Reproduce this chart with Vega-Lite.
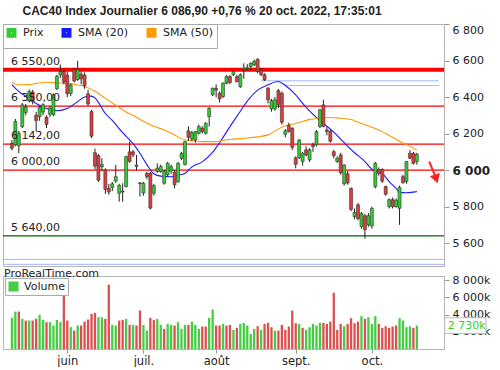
{
  "$schema": "https://vega.github.io/schema/vega-lite/v6.json",
  "background": "white",
  "padding": {"top": 5, "left": 0, "right": 0, "bottom": 0},
  "autosize": {"type": "pad"},
  "spacing": 0,
  "title": {"text": "CAC40 Index Journalier 6 086,90 +0,76 % 20 oct. 2022, 17:35:01", "anchor": "start", "dx": 22, "font": "Liberation Sans", "fontSize": 12, "fontWeight": "bold", "color": "#222222", "offset": 5},
  "config": {
    "font": "DejaVu Sans",
    "view": {"stroke": "#b4b4b4"},
    "axis": {"labelFont": "DejaVu Sans", "labelFontSize": 11, "labelColor": "#222222", "grid": false, "title": null, "labelOverlap": false},
    "axisY": {"labelOverlap": false},
    "legend": {"labelFont": "DejaVu Sans", "labelFontSize": 11, "labelColor": "#222222"}
  },
  "resolve": {"scale": {"color": "independent", "x": "independent", "y": "independent"}, "legend": {"color": "independent"}},
  "datasets": {
    "prix": [
      {"d":"2022-05-10","i":0,"o":6147,"h":6165,"l":6108,"c":6120,"v":3630,"vd":"hausse"},
      {"d":"2022-05-11","i":1,"o":6138,"h":6280,"l":6130,"c":6266,"v":4360,"vd":"hausse"},
      {"d":"2022-05-12","i":2,"o":6133,"h":6215,"l":6092,"c":6202,"v":4360,"vd":"baisse"},
      {"d":"2022-05-13","i":3,"o":6238,"h":6368,"l":6230,"c":6357,"v":3510,"vd":"hausse"},
      {"d":"2022-05-16","i":4,"o":6315,"h":6362,"l":6300,"c":6345,"v":3310,"vd":"baisse"},
      {"d":"2022-05-17","i":5,"o":6378,"h":6442,"l":6370,"c":6430,"v":3310,"vd":"hausse"},
      {"d":"2022-05-18","i":6,"o":6428,"h":6440,"l":6360,"c":6375,"v":3310,"vd":"baisse"},
      {"d":"2022-05-19","i":7,"o":6300,"h":6318,"l":6212,"c":6272,"v":3510,"vd":"baisse"},
      {"d":"2022-05-20","i":8,"o":6293,"h":6355,"l":6270,"c":6345,"v":3980,"vd":"hausse"},
      {"d":"2022-05-23","i":9,"o":6318,"h":6366,"l":6300,"c":6358,"v":3390,"vd":"hausse"},
      {"d":"2022-05-24","i":10,"o":6290,"h":6300,"l":6230,"c":6250,"v":3120,"vd":"baisse"},
      {"d":"2022-05-25","i":11,"o":6306,"h":6352,"l":6290,"c":6340,"v":3120,"vd":"hausse"},
      {"d":"2022-05-26","i":12,"o":6304,"h":6420,"l":6295,"c":6412,"v":2730,"vd":"hausse"},
      {"d":"2022-05-27","i":13,"o":6445,"h":6522,"l":6438,"c":6514,"v":3390,"vd":"hausse"},
      {"d":"2022-05-30","i":14,"o":6522,"h":6578,"l":6505,"c":6540,"v":3120,"vd":"hausse"},
      {"d":"2022-05-31","i":15,"o":6540,"h":6552,"l":6470,"c":6482,"v":6430,"vd":"baisse"},
      {"d":"2022-06-01","i":16,"o":6520,"h":6540,"l":6400,"c":6418,"v":3310,"vd":"baisse"},
      {"d":"2022-06-02","i":17,"o":6420,"h":6475,"l":6405,"c":6465,"v":2540,"vd":"hausse"},
      {"d":"2022-06-03","i":18,"o":6550,"h":6560,"l":6480,"c":6488,"v":2140,"vd":"baisse"},
      {"d":"2022-06-06","i":19,"o":6495,"h":6598,"l":6490,"c":6550,"v":2730,"vd":"hausse"},
      {"d":"2022-06-07","i":20,"o":6525,"h":6540,"l":6470,"c":6500,"v":2730,"vd":"baisse"},
      {"d":"2022-06-08","i":21,"o":6520,"h":6535,"l":6445,"c":6462,"v":3190,"vd":"baisse"},
      {"d":"2022-06-09","i":22,"o":6418,"h":6440,"l":6352,"c":6362,"v":3430,"vd":"baisse"},
      {"d":"2022-06-10","i":23,"o":6320,"h":6330,"l":6175,"c":6186,"v":4090,"vd":"baisse"},
      {"d":"2022-06-13","i":24,"o":6095,"h":6118,"l":6005,"c":6022,"v":4210,"vd":"baisse"},
      {"d":"2022-06-14","i":25,"o":6080,"h":6088,"l":5935,"c":5945,"v":3700,"vd":"hausse"},
      {"d":"2022-06-15","i":26,"o":6018,"h":6065,"l":5995,"c":6030,"v":3700,"vd":"hausse"},
      {"d":"2022-06-16","i":27,"o":6001,"h":6010,"l":5870,"c":5895,"v":3510,"vd":"baisse"},
      {"d":"2022-06-17","i":28,"o":5900,"h":5925,"l":5865,"c":5880,"v":7490,"vd":"baisse"},
      {"d":"2022-06-20","i":29,"o":5905,"h":5935,"l":5885,"c":5925,"v":2810,"vd":"hausse"},
      {"d":"2022-06-21","i":30,"o":5940,"h":6028,"l":5930,"c":5964,"v":2730,"vd":"hausse"},
      {"d":"2022-06-22","i":31,"o":5873,"h":5925,"l":5827,"c":5917,"v":3310,"vd":"baisse"},
      {"d":"2022-06-23","i":32,"o":5885,"h":5928,"l":5827,"c":5880,"v":3390,"vd":"baisse"},
      {"d":"2022-06-24","i":33,"o":5910,"h":6078,"l":5905,"c":6074,"v":3510,"vd":"hausse"},
      {"d":"2022-06-27","i":34,"o":6100,"h":6156,"l":6040,"c":6048,"v":2810,"vd":"baisse"},
      {"d":"2022-06-28","i":35,"o":6100,"h":6110,"l":6070,"c":6084,"v":2810,"vd":"hausse"},
      {"d":"2022-06-29","i":36,"o":6020,"h":6083,"l":6000,"c":6028,"v":2730,"vd":"baisse"},
      {"d":"2022-06-30","i":37,"o":5930,"h":5935,"l":5855,"c":5926,"v":4480,"vd":"baisse"},
      {"d":"2022-07-01","i":38,"o":5875,"h":5935,"l":5860,"c":5928,"v":2810,"vd":"hausse"},
      {"d":"2022-07-04","i":39,"o":5982,"h":5990,"l":5950,"c":5964,"v":2140,"vd":"hausse"},
      {"d":"2022-07-05","i":40,"o":5982,"h":5990,"l":5785,"c":5792,"v":3630,"vd":"baisse"},
      {"d":"2022-07-06","i":41,"o":5873,"h":5925,"l":5860,"c":5915,"v":3390,"vd":"baisse"},
      {"d":"2022-07-07","i":42,"o":5992,"h":6037,"l":5985,"c":6010,"v":3510,"vd":"hausse"},
      {"d":"2022-07-08","i":43,"o":5992,"h":6030,"l":5985,"c":6020,"v":2810,"vd":"hausse"},
      {"d":"2022-07-11","i":44,"o":5928,"h":6000,"l":5920,"c":5992,"v":2340,"vd":"baisse"},
      {"d":"2022-07-12","i":45,"o":5975,"h":6045,"l":5965,"c":6037,"v":2920,"vd":"hausse"},
      {"d":"2022-07-13","i":46,"o":5995,"h":6030,"l":5980,"c":6019,"v":2810,"vd":"hausse"},
      {"d":"2022-07-14","i":47,"o":5990,"h":6000,"l":5900,"c":5920,"v":2730,"vd":"baisse"},
      {"d":"2022-07-15","i":48,"o":5937,"h":6045,"l":5930,"c":6037,"v":3120,"vd":"hausse"},
      {"d":"2022-07-18","i":49,"o":6065,"h":6100,"l":6055,"c":6092,"v":2340,"vd":"hausse"},
      {"d":"2022-07-19","i":50,"o":6030,"h":6160,"l":6025,"c":6156,"v":2810,"vd":"hausse"},
      {"d":"2022-07-20","i":51,"o":6215,"h":6240,"l":6160,"c":6180,"v":2810,"vd":"baisse"},
      {"d":"2022-07-21","i":52,"o":6170,"h":6215,"l":6160,"c":6205,"v":3190,"vd":"hausse"},
      {"d":"2022-07-22","i":53,"o":6165,"h":6215,"l":6150,"c":6210,"v":2810,"vd":"hausse"},
      {"d":"2022-07-25","i":54,"o":6202,"h":6250,"l":6195,"c":6238,"v":2340,"vd":"hausse"},
      {"d":"2022-07-26","i":55,"o":6229,"h":6240,"l":6200,"c":6211,"v":2610,"vd":"baisse"},
      {"d":"2022-07-27","i":56,"o":6202,"h":6262,"l":6195,"c":6256,"v":2610,"vd":"baisse"},
      {"d":"2022-07-28","i":57,"o":6293,"h":6345,"l":6238,"c":6339,"v":3630,"vd":"hausse"},
      {"d":"2022-07-29","i":58,"o":6412,"h":6452,"l":6405,"c":6448,"v":4600,"vd":"hausse"},
      {"d":"2022-08-01","i":59,"o":6448,"h":6470,"l":6400,"c":6438,"v":2730,"vd":"baisse"},
      {"d":"2022-08-02","i":60,"o":6421,"h":6430,"l":6370,"c":6390,"v":2730,"vd":"baisse"},
      {"d":"2022-08-03","i":61,"o":6403,"h":6480,"l":6395,"c":6476,"v":2920,"vd":"hausse"},
      {"d":"2022-08-04","i":62,"o":6476,"h":6520,"l":6470,"c":6512,"v":2730,"vd":"baisse"},
      {"d":"2022-08-05","i":63,"o":6512,"h":6520,"l":6470,"c":6480,"v":2810,"vd":"baisse"},
      {"d":"2022-08-08","i":64,"o":6522,"h":6548,"l":6515,"c":6540,"v":2220,"vd":"hausse"},
      {"d":"2022-08-09","i":65,"o":6512,"h":6520,"l":6480,"c":6485,"v":2460,"vd":"baisse"},
      {"d":"2022-08-10","i":66,"o":6457,"h":6530,"l":6450,"c":6522,"v":2920,"vd":"hausse"},
      {"d":"2022-08-11","i":67,"o":6550,"h":6585,"l":6500,"c":6558,"v":3040,"vd":"hausse"},
      {"d":"2022-08-12","i":68,"o":6555,"h":6580,"l":6545,"c":6560,"v":2730,"vd":"hausse"},
      {"d":"2022-08-15","i":69,"o":6567,"h":6590,"l":6550,"c":6585,"v":1750,"vd":"hausse"},
      {"d":"2022-08-16","i":70,"o":6576,"h":6605,"l":6570,"c":6595,"v":2340,"vd":"hausse"},
      {"d":"2022-08-17","i":71,"o":6607,"h":6612,"l":6530,"c":6540,"v":2650,"vd":"baisse"},
      {"d":"2022-08-18","i":72,"o":6549,"h":6560,"l":6515,"c":6522,"v":2220,"vd":"hausse"},
      {"d":"2022-08-19","i":73,"o":6522,"h":6530,"l":6488,"c":6494,"v":2920,"vd":"baisse"},
      {"d":"2022-08-22","i":74,"o":6448,"h":6455,"l":6365,"c":6385,"v":3040,"vd":"baisse"},
      {"d":"2022-08-23","i":75,"o":6335,"h":6390,"l":6320,"c":6380,"v":2540,"vd":"baisse"},
      {"d":"2022-08-24","i":76,"o":6335,"h":6400,"l":6325,"c":6385,"v":2140,"vd":"hausse"},
      {"d":"2022-08-25","i":77,"o":6435,"h":6445,"l":6340,"c":6360,"v":2140,"vd":"baisse"},
      {"d":"2022-08-26","i":78,"o":6421,"h":6430,"l":6250,"c":6262,"v":2810,"vd":"baisse"},
      {"d":"2022-08-29","i":79,"o":6196,"h":6225,"l":6180,"c":6215,"v":2220,"vd":"baisse"},
      {"d":"2022-08-30","i":80,"o":6245,"h":6260,"l":6205,"c":6212,"v":2610,"vd":"baisse"},
      {"d":"2022-08-31","i":81,"o":6229,"h":6235,"l":6110,"c":6125,"v":4480,"vd":"baisse"},
      {"d":"2022-09-01","i":82,"o":6068,"h":6075,"l":6010,"c":6032,"v":3000,"vd":"baisse"},
      {"d":"2022-09-02","i":83,"o":6068,"h":6170,"l":6060,"c":6165,"v":2920,"vd":"hausse"},
      {"d":"2022-09-05","i":84,"o":6047,"h":6100,"l":6025,"c":6092,"v":2460,"vd":"baisse"},
      {"d":"2022-09-06","i":85,"o":6111,"h":6130,"l":6075,"c":6083,"v":2220,"vd":"hausse"},
      {"d":"2022-09-07","i":86,"o":6056,"h":6120,"l":6045,"c":6111,"v":2540,"vd":"hausse"},
      {"d":"2022-09-08","i":87,"o":6138,"h":6150,"l":6100,"c":6129,"v":2920,"vd":"hausse"},
      {"d":"2022-09-09","i":88,"o":6138,"h":6220,"l":6130,"c":6211,"v":2730,"vd":"hausse"},
      {"d":"2022-09-12","i":89,"o":6238,"h":6335,"l":6230,"c":6330,"v":3040,"vd":"hausse"},
      {"d":"2022-09-13","i":90,"o":6357,"h":6385,"l":6235,"c":6240,"v":3040,"vd":"baisse"},
      {"d":"2022-09-14","i":91,"o":6220,"h":6235,"l":6190,"c":6211,"v":2920,"vd":"baisse"},
      {"d":"2022-09-15","i":92,"o":6211,"h":6222,"l":6150,"c":6158,"v":3190,"vd":"baisse"},
      {"d":"2022-09-16","i":93,"o":6101,"h":6110,"l":6065,"c":6079,"v":6550,"vd":"baisse"},
      {"d":"2022-09-19","i":94,"o":6047,"h":6075,"l":6040,"c":6065,"v":2220,"vd":"baisse"},
      {"d":"2022-09-20","i":95,"o":6083,"h":6095,"l":5975,"c":5985,"v":2920,"vd":"baisse"},
      {"d":"2022-09-21","i":96,"o":5925,"h":6032,"l":5915,"c":6028,"v":2650,"vd":"hausse"},
      {"d":"2022-09-22","i":97,"o":5980,"h":5995,"l":5920,"c":5930,"v":2920,"vd":"baisse"},
      {"d":"2022-09-23","i":98,"o":5900,"h":5905,"l":5775,"c":5785,"v":3590,"vd":"baisse"},
      {"d":"2022-09-26","i":99,"o":5745,"h":5790,"l":5730,"c":5768,"v":3000,"vd":"baisse"},
      {"d":"2022-09-27","i":100,"o":5810,"h":5820,"l":5725,"c":5735,"v":3190,"vd":"baisse"},
      {"d":"2022-09-28","i":101,"o":5690,"h":5770,"l":5680,"c":5763,"v":3820,"vd":"hausse"},
      {"d":"2022-09-29","i":102,"o":5750,"h":5760,"l":5625,"c":5674,"v":3510,"vd":"baisse"},
      {"d":"2022-09-30","i":103,"o":5700,"h":5765,"l":5690,"c":5750,"v":3700,"vd":"hausse"},
      {"d":"2022-10-03","i":104,"o":5695,"h":5800,"l":5680,"c":5790,"v":2920,"vd":"hausse"},
      {"d":"2022-10-04","i":105,"o":5910,"h":6045,"l":5900,"c":6037,"v":3820,"vd":"hausse"},
      {"d":"2022-10-05","i":106,"o":6003,"h":6015,"l":5970,"c":5982,"v":2920,"vd":"baisse"},
      {"d":"2022-10-06","i":107,"o":6003,"h":6010,"l":5930,"c":5940,"v":2460,"vd":"baisse"},
      {"d":"2022-10-07","i":108,"o":5910,"h":5915,"l":5860,"c":5868,"v":2650,"vd":"baisse"},
      {"d":"2022-10-10","i":109,"o":5800,"h":5845,"l":5790,"c":5838,"v":2460,"vd":"baisse"},
      {"d":"2022-10-11","i":110,"o":5838,"h":5850,"l":5790,"c":5800,"v":2610,"vd":"baisse"},
      {"d":"2022-10-12","i":111,"o":5800,"h":5845,"l":5795,"c":5835,"v":2730,"vd":"baisse"},
      {"d":"2022-10-13","i":112,"o":5791,"h":5915,"l":5700,"c":5905,"v":3590,"vd":"hausse"},
      {"d":"2022-10-14","i":113,"o":5964,"h":5975,"l":5925,"c":5932,"v":3310,"vd":"hausse"},
      {"d":"2022-10-17","i":114,"o":5937,"h":6050,"l":5925,"c":6047,"v":2540,"vd":"hausse"},
      {"d":"2022-10-18","i":115,"o":6092,"h":6110,"l":6060,"c":6065,"v":2650,"vd":"hausse"},
      {"d":"2022-10-19","i":116,"o":6092,"h":6100,"l":6030,"c":6037,"v":2460,"vd":"baisse"},
      {"d":"2022-10-20","i":117,"o":6047,"h":6095,"l":6030,"c":6087,"v":2730,"vd":"hausse"}
    ],
    "sma": [
      {"i":0,"serie":"SMA (20)","val":6468},{"i":2,"serie":"SMA (20)","val":6430},{"i":4,"serie":"SMA (20)","val":6405},{"i":7,"serie":"SMA (20)","val":6365},{"i":10,"serie":"SMA (20)","val":6337},{"i":13,"serie":"SMA (20)","val":6325},{"i":16,"serie":"SMA (20)","val":6337},{"i":19,"serie":"SMA (20)","val":6375},{"i":21,"serie":"SMA (20)","val":6400},{"i":23,"serie":"SMA (20)","val":6405},{"i":24,"serie":"SMA (20)","val":6395},{"i":27,"serie":"SMA (20)","val":6310},{"i":29,"serie":"SMA (20)","val":6272},{"i":32,"serie":"SMA (20)","val":6205},{"i":35,"serie":"SMA (20)","val":6145},{"i":37,"serie":"SMA (20)","val":6092},{"i":39,"serie":"SMA (20)","val":6030},{"i":41,"serie":"SMA (20)","val":5980},{"i":43,"serie":"SMA (20)","val":5967},{"i":46,"serie":"SMA (20)","val":5964},{"i":48,"serie":"SMA (20)","val":5972},{"i":50,"serie":"SMA (20)","val":5982},{"i":52,"serie":"SMA (20)","val":6018},{"i":55,"serie":"SMA (20)","val":6045},{"i":58,"serie":"SMA (20)","val":6098},{"i":60,"serie":"SMA (20)","val":6150},{"i":63,"serie":"SMA (20)","val":6238},{"i":66,"serie":"SMA (20)","val":6322},{"i":68,"serie":"SMA (20)","val":6378},{"i":71,"serie":"SMA (20)","val":6438},{"i":74,"serie":"SMA (20)","val":6467},{"i":77,"serie":"SMA (20)","val":6485},{"i":79,"serie":"SMA (20)","val":6463},{"i":82,"serie":"SMA (20)","val":6412},{"i":84,"serie":"SMA (20)","val":6365},{"i":87,"serie":"SMA (20)","val":6305},{"i":90,"serie":"SMA (20)","val":6256},{"i":93,"serie":"SMA (20)","val":6208},{"i":96,"serie":"SMA (20)","val":6150},{"i":99,"serie":"SMA (20)","val":6095},{"i":102,"serie":"SMA (20)","val":6047},{"i":104,"serie":"SMA (20)","val":6005},{"i":107,"serie":"SMA (20)","val":5982},{"i":109,"serie":"SMA (20)","val":5937},{"i":111,"serie":"SMA (20)","val":5900},{"i":112,"serie":"SMA (20)","val":5878},{"i":114,"serie":"SMA (20)","val":5876},{"i":117,"serie":"SMA (20)","val":5882},
      {"i":0,"serie":"SMA (50)","val":6480},{"i":2,"serie":"SMA (50)","val":6467},{"i":5,"serie":"SMA (50)","val":6468},{"i":7,"serie":"SMA (50)","val":6475},{"i":10,"serie":"SMA (50)","val":6481},{"i":13,"serie":"SMA (50)","val":6478},{"i":16,"serie":"SMA (50)","val":6475},{"i":19,"serie":"SMA (50)","val":6466},{"i":21,"serie":"SMA (50)","val":6458},{"i":24,"serie":"SMA (50)","val":6432},{"i":27,"serie":"SMA (50)","val":6393},{"i":30,"serie":"SMA (50)","val":6355},{"i":33,"serie":"SMA (50)","val":6318},{"i":36,"serie":"SMA (50)","val":6290},{"i":38,"serie":"SMA (50)","val":6268},{"i":41,"serie":"SMA (50)","val":6240},{"i":44,"serie":"SMA (50)","val":6220},{"i":47,"serie":"SMA (50)","val":6192},{"i":50,"serie":"SMA (50)","val":6165},{"i":53,"serie":"SMA (50)","val":6160},{"i":55,"serie":"SMA (50)","val":6156},{"i":58,"serie":"SMA (50)","val":6156},{"i":63,"serie":"SMA (50)","val":6168},{"i":67,"serie":"SMA (50)","val":6174},{"i":71,"serie":"SMA (50)","val":6182},{"i":74,"serie":"SMA (50)","val":6193},{"i":78,"serie":"SMA (50)","val":6235},{"i":81,"serie":"SMA (50)","val":6251},{"i":84,"serie":"SMA (50)","val":6266},{"i":86,"serie":"SMA (50)","val":6278},{"i":89,"serie":"SMA (50)","val":6284},{"i":92,"serie":"SMA (50)","val":6288},{"i":95,"serie":"SMA (50)","val":6284},{"i":98,"serie":"SMA (50)","val":6277},{"i":100,"serie":"SMA (50)","val":6262},{"i":103,"serie":"SMA (50)","val":6241},{"i":106,"serie":"SMA (50)","val":6220},{"i":109,"serie":"SMA (50)","val":6190},{"i":112,"serie":"SMA (50)","val":6158},{"i":115,"serie":"SMA (50)","val":6130},{"i":117,"serie":"SMA (50)","val":6110}
    ]
  },
  "vconcat": [
    {
      "width": 441,
      "height": 242,
      "layer": [
        {
          "data": {"values": [{"p": 5511}, {"p": 5484}]},
          "mark": {"type": "rule", "color": "#9fb8ff", "strokeWidth": 1},
          "encoding": {
            "y": {"field": "p", "type": "quantitative", "scale": {"domain": [5475, 6800], "nice": false, "zero": false},
              "axis": {"orient": "right", "values": [5600, 5800, 6000, 6200, 6400, 6600, 6800], "labelExpr": "replace(format(datum.value, ','), ',', ' ')", "tickSize": 5, "tickColor": "#999999", "domainColor": "#b4b4b4", "labelPadding": 3, "labelFlush": true, "labelOverlap": false,
                "labelFontWeight": {"condition": {"test": "datum.value == 6000", "value": "bold"}, "value": "normal"},
                "labelFontSize": {"condition": {"test": "datum.value == 6000", "value": 12}, "value": 11}}}
          }
        },
        {
          "data": {"values": [{"p": 6489, "debut": 72}, {"p": 6463, "debut": 79}]},
          "mark": {"type": "rule", "color": "#9fb8ff", "strokeWidth": 1},
          "encoding": {
            "x": {"field": "debut", "type": "quantitative", "scale": {"domain": [-1.13, 123.4], "nice": false, "zero": false}, "axis": null},
            "x2": {"datum": 123.4},
            "y": {"field": "p", "type": "quantitative"}
          }
        },
        {
          "data": {"values": [{"p": 6350}, {"p": 6142}, {"p": 6000}]},
          "mark": {"type": "rule", "color": "#ff0000", "strokeWidth": 1.2},
          "encoding": {"y": {"field": "p", "type": "quantitative"}}
        },
        {
          "data": {"values": [{"p": 5640}]},
          "mark": {"type": "rule", "color": "#006400", "strokeWidth": 1.3},
          "encoding": {"y": {"field": "p", "type": "quantitative"}}
        },
        {
          "data": {"values": [{"p": 6550}]},
          "mark": {"type": "rule", "color": "#ff0000", "strokeWidth": 4},
          "encoding": {"y": {"field": "p", "type": "quantitative"}}
        },
        {
          "data": {"name": "sma"},
          "mark": {"type": "line", "strokeWidth": 1.1, "interpolate": "monotone"},
          "encoding": {
            "x": {"field": "i", "type": "quantitative"},
            "y": {"field": "val", "type": "quantitative"},
            "color": {"field": "serie", "type": "nominal",
              "scale": {"domain": ["Prix", "SMA (20)", "SMA (50)"], "range": ["#33cc33", "#1a1aff", "#ff9900"]},
              "legend": {"title": null, "orient": "top-left", "direction": "horizontal", "offset": 0, "symbolType": "square", "symbolSize": 30, "symbolStrokeWidth": 4.5, "labelFontSize": 11, "padding": 3, "strokeColor": "#aaaaaa", "fillColor": "white", "columnPadding": 10, "labelOffset": 6}}
          }
        },
        {
          "data": {"name": "prix"},
          "mark": {"type": "rule", "color": "#222222", "strokeWidth": 1},
          "encoding": {
            "x": {"field": "i", "type": "quantitative"},
            "y": {"field": "l", "type": "quantitative"},
            "y2": {"field": "h"}
          }
        },
        {
          "data": {"name": "prix"},
          "mark": {"type": "bar", "width": 3, "stroke": "#333333", "strokeWidth": 0.6},
          "encoding": {
            "x": {"field": "i", "type": "quantitative"},
            "y": {"field": "o", "type": "quantitative"},
            "y2": {"field": "c"},
            "fill": {"condition": {"test": "datum.c >= datum.o", "value": "#33cc33"}, "value": "#e03c3c"}
          }
        },
        {
          "data": {"values": [{"p": 6550, "t": "6 550,00"}, {"p": 6350, "t": "6 350,00"}, {"p": 6142, "t": "6 142,00"}, {"p": 6000, "t": "6 000,00"}, {"p": 5640, "t": "5 640,00"}]},
          "mark": {"type": "text", "align": "left", "baseline": "alphabetic", "dy": -5, "dx": -1, "fontSize": 11, "color": "#222222"},
          "encoding": {
            "x": {"datum": 0},
            "y": {"field": "p", "type": "quantitative"},
            "text": {"field": "t"}
          }
        },
        {
          "data": {"values": [{"i0": 120.6, "p0": 6047, "i1": 122.2, "p1": 5972}]},
          "mark": {"type": "rule", "color": "#ff2020", "strokeWidth": 2},
          "encoding": {
            "x": {"field": "i0", "type": "quantitative"},
            "y": {"field": "p0", "type": "quantitative"},
            "x2": {"field": "i1"},
            "y2": {"field": "p1"}
          }
        },
        {
          "data": {"values": [{"i": 122.6, "p": 5952}]},
          "mark": {"type": "point", "shape": "triangle-down", "filled": true, "color": "#ff2020", "size": 110, "angle": -18, "opacity": 1},
          "encoding": {
            "x": {"field": "i", "type": "quantitative"},
            "y": {"field": "p", "type": "quantitative"}
          }
        }
      ]
    },
    {
      "width": 441,
      "height": 73,
      "title": {"text": "ProRealTime.com", "anchor": "start", "font": "DejaVu Sans", "fontSize": 11, "fontWeight": "normal", "color": "#222222", "offset": -5, "dx": 1},
      "data": {"name": "prix"},
      "layer": [
        {
          "mark": {"type": "bar", "width": 2.3},
          "encoding": {
            "x": {"field": "i", "type": "quantitative", "scale": {"domain": [-1.13, 123.4], "nice": false, "zero": false},
              "axis": {"orient": "bottom", "values": [16, 38, 59, 82, 104], "labelExpr": "datum.value == 16 ? 'juin' : datum.value == 38 ? 'juil.' : datum.value == 59 ? 'août' : datum.value == 82 ? 'sept.' : 'oct.'", "domain": false, "tickSize": 4, "tickColor": "#999999", "labelPadding": 2, "labelFontSize": 11.5, "labelFlush": false}},
            "y": {"field": "v", "type": "quantitative", "scale": {"domain": [0, 8500], "nice": false},
              "axis": {"orient": "right", "values": [2000, 4000, 6000, 8000], "labelExpr": "replace(format(datum.value, ','), ',', ' ') + 'k'", "tickSize": 5, "tickColor": "#999999", "domainColor": "#b4b4b4", "labelPadding": 3, "labelOverlap": false, "labelBound": false, "labelSeparation": 0}},
            "color": {"field": "vd", "type": "nominal",
              "scale": {"domain": ["hausse", "baisse"], "range": ["#44cc44", "#dd4f4f"]},
              "legend": {"title": null, "orient": "top-left", "offset": 2, "values": ["hausse"], "labelExpr": "'Volume'", "symbolType": "square", "symbolSize": 100, "symbolStrokeWidth": 0, "labelFontSize": 11, "padding": 3, "strokeColor": "#aaaaaa", "fillColor": "white", "labelOffset": 5}}
          }
        },
        {
          "transform": [{"filter": "datum.i == 117"}],
          "mark": {"type": "point", "shape": "M -1 -0.38 L 1 -0.38 L 1 0.38 L -1 0.38 Z", "size": 1700, "filled": true, "fill": "white", "stroke": "#bbbbbb", "strokeWidth": 1, "xOffset": 48.5, "opacity": 1},
          "encoding": {
            "x": {"field": "i", "type": "quantitative"},
            "y": {"field": "v", "type": "quantitative", "axis": {"orient": "right", "values": [2000, 4000, 6000, 8000], "labelOverlap": false}}
          }
        },
        {
          "transform": [{"filter": "datum.i == 117"}],
          "mark": {"type": "text", "align": "left", "baseline": "middle", "dx": 31, "fontSize": 11, "color": "#33cc33"},
          "encoding": {
            "x": {"field": "i", "type": "quantitative"},
            "y": {"field": "v", "type": "quantitative", "axis": {"orient": "right", "values": [2000, 4000, 6000, 8000], "labelOverlap": false}},
            "text": {"value": "2 730k"}
          }
        }
      ]
    }
  ]
}
